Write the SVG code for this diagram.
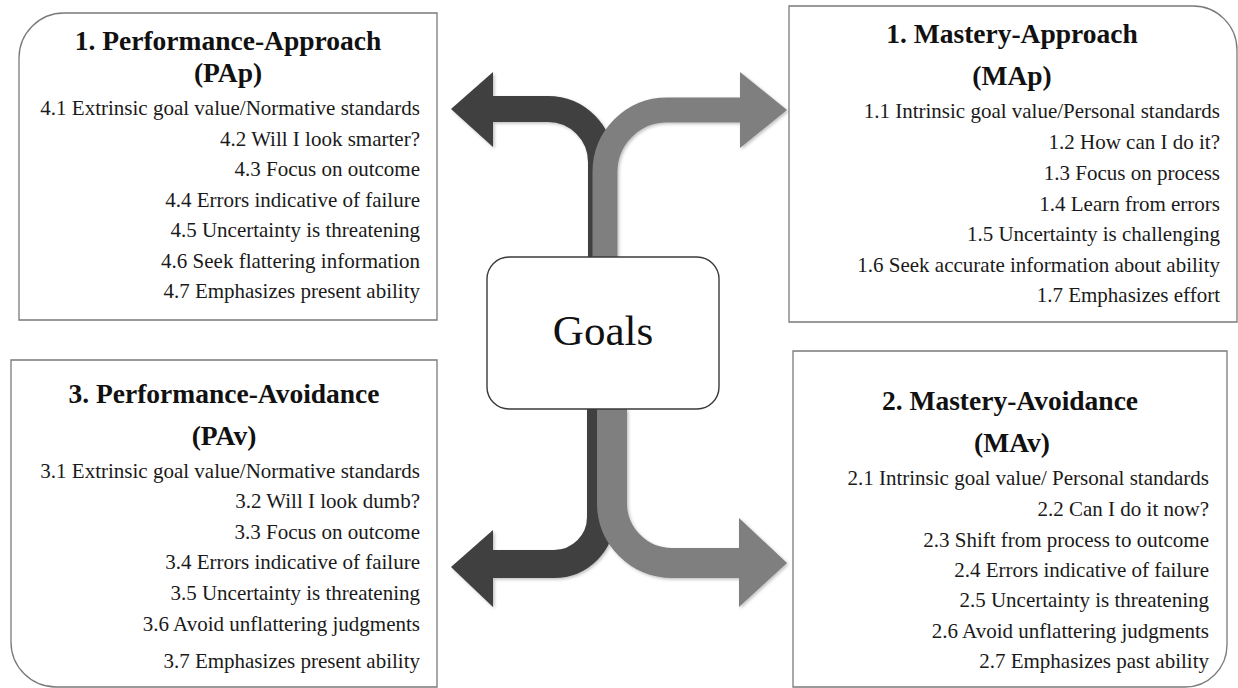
<svg xmlns="http://www.w3.org/2000/svg" width="1238" height="688" viewBox="0 0 1238 688">
<defs>
<style>
.box{fill:#fff;stroke:#7a7a7a;stroke-width:1.3}
.goal{fill:#fff;stroke:#3a3a3a;stroke-width:1.4}
.t{font-family:"Liberation Serif","Times New Roman",serif;font-weight:bold;font-size:27.5px;fill:#111;text-anchor:middle}
.i{font-family:"Liberation Serif","Times New Roman",serif;font-size:21px;fill:#1a1a1a;text-anchor:end}
.g{font-family:"Liberation Serif","Times New Roman",serif;font-size:43px;fill:#111;text-anchor:middle}
.dk{fill:none;stroke:#404040;stroke-width:26}
.gr{fill:none;stroke:#7f7f7f;stroke-width:26}
.dkh{fill:#404040}
.grh{fill:#7f7f7f}
</style>
<filter id="sh" x="-10%" y="-10%" width="130%" height="130%">
<feDropShadow dx="1.5" dy="1.5" stdDeviation="1.5" flood-color="#000" flood-opacity="0.25"/>
</filter>
</defs>

<g id="connectors" filter="url(#sh)">
<path class="dk" d="M601,258 V162 A53,53 0 0 0 548,109 H490"/>
<polygon class="dkh" points="493,72 451,109 493,147"/>
<path class="gr" style="stroke-width:25" d="M605,258 V172 A62,62 0 0 1 667,110 H742"/>
<polygon class="grh" points="740,72 787,110 740,148"/>
<path class="dk" style="stroke-width:28" d="M601,409 V517 A47,47 0 0 1 554,564 H490"/>
<polygon class="dkh" points="493,530 451,567 493,607"/>
<path class="gr" style="stroke-width:30" d="M612,409 V503 A60,60 0 0 0 672,563 H742"/>
<polygon class="grh" points="739,518 787,563 739,607"/>
</g>

<g id="goals">
<rect class="goal" x="487" y="257" width="232" height="152" rx="22" ry="22"/>
<text class="g" x="603" y="345">Goals</text>
</g>

<g id="performance-approach">
<path class="box" d="M19,58 A45,45 0 0 1 64,13 H437 V320 H19 Z"/>
<text class="t" x="228" y="50">1. Performance-Approach</text>
<text class="t" x="228" y="82">(PAp)</text>
<text class="i" x="420" y="115">4.1 Extrinsic goal value/Normative standards</text>
<text class="i" x="420" y="146">4.2 Will I look smarter?</text>
<text class="i" x="420" y="176">4.3 Focus on outcome</text>
<text class="i" x="420" y="207">4.4 Errors indicative of failure</text>
<text class="i" x="420" y="237">4.5 Uncertainty is threatening</text>
<text class="i" x="420" y="268">4.6 Seek flattering information</text>
<text class="i" x="420" y="298">4.7 Emphasizes present ability</text>
</g>

<g id="mastery-approach">
<path class="box" d="M789,6 H1193 A44,44 0 0 1 1237,50 V322 H789 Z"/>
<text class="t" x="1012" y="43">1. Mastery-Approach</text>
<text class="t" x="1012" y="85">(MAp)</text>
<text class="i" x="1220" y="118">1.1 Intrinsic goal value/Personal standards</text>
<text class="i" x="1220" y="149">1.2 How can I do it?</text>
<text class="i" x="1220" y="180">1.3 Focus on process</text>
<text class="i" x="1220" y="211">1.4 Learn from errors</text>
<text class="i" x="1220" y="241">1.5 Uncertainty is challenging</text>
<text class="i" x="1220" y="272">1.6 Seek accurate information about ability</text>
<text class="i" x="1220" y="302">1.7 Emphasizes effort</text>
</g>

<g id="performance-avoidance">
<path class="box" d="M11,360 H437 V687 H56 A45,45 0 0 1 11,642 Z"/>
<text class="t" x="224" y="403">3. Performance-Avoidance</text>
<text class="t" x="224" y="445">(PAv)</text>
<text class="i" x="420" y="478">3.1 Extrinsic goal value/Normative standards</text>
<text class="i" x="420" y="508">3.2 Will I look dumb?</text>
<text class="i" x="420" y="539">3.3 Focus on outcome</text>
<text class="i" x="420" y="569">3.4 Errors indicative of failure</text>
<text class="i" x="420" y="600">3.5 Uncertainty is threatening</text>
<text class="i" x="420" y="631">3.6 Avoid unflattering judgments</text>
<text class="i" x="420" y="668">3.7 Emphasizes present ability</text>
</g>

<g id="mastery-avoidance">
<path class="box" d="M793,351 H1227 V645 A42,42 0 0 1 1185,687 H793 Z"/>
<text class="t" x="1010" y="410">2. Mastery-Avoidance</text>
<text class="t" x="1012" y="452">(MAv)</text>
<text class="i" x="1209" y="485">2.1 Intrinsic goal value/ Personal standards</text>
<text class="i" x="1209" y="516">2.2 Can I do it now?</text>
<text class="i" x="1209" y="547">2.3 Shift from process to outcome</text>
<text class="i" x="1209" y="577">2.4 Errors indicative of failure</text>
<text class="i" x="1209" y="607">2.5 Uncertainty is threatening</text>
<text class="i" x="1209" y="638">2.6 Avoid unflattering judgments</text>
<text class="i" x="1209" y="668">2.7 Emphasizes past ability</text>
</g>
</svg>
